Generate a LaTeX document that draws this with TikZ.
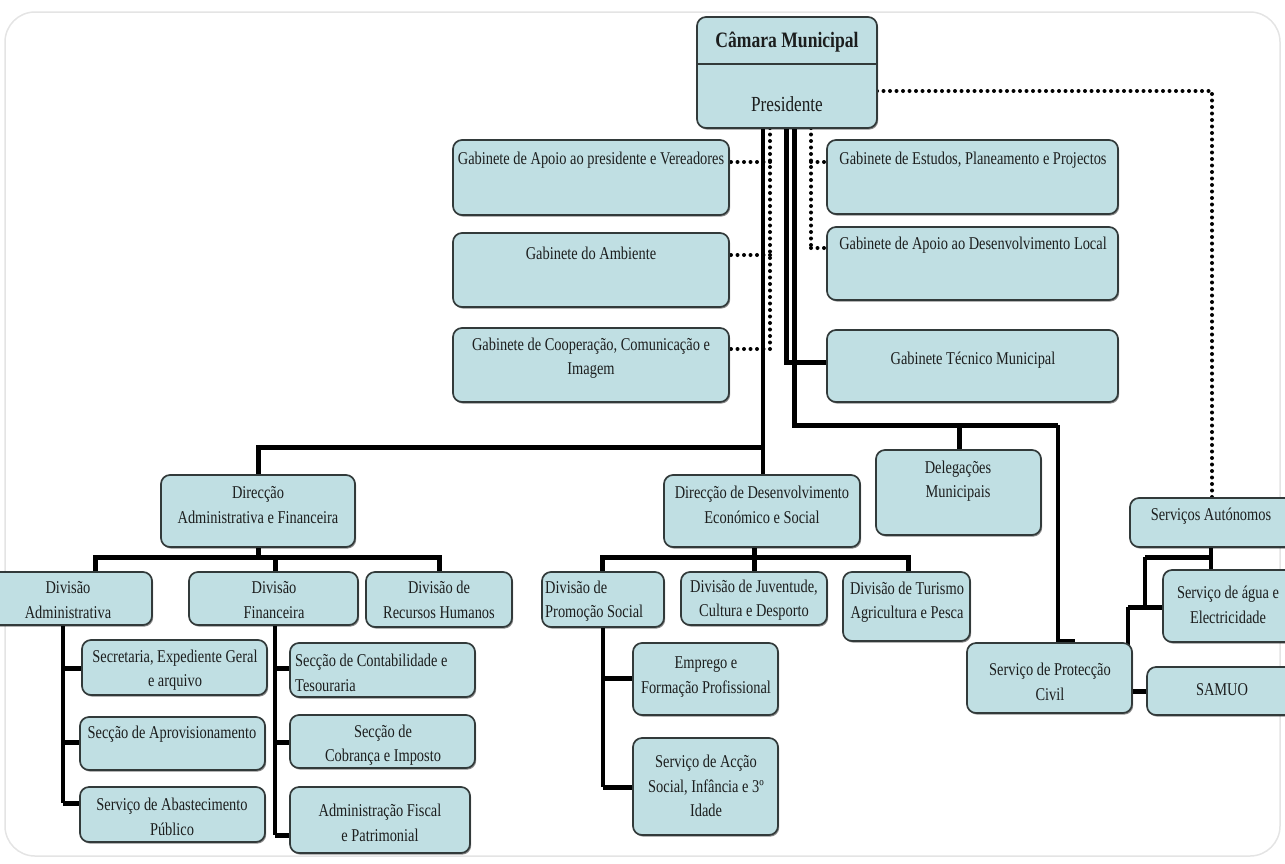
\documentclass[tikz,border=0pt]{standalone}
\usepackage{fontspec}
\setmainfont{Liberation Serif}[FakeStretch=0.80]
\usetikzlibrary{fit,backgrounds,shadows}
\definecolor{boxfill}{RGB}{192,223,227}
\definecolor{boxline}{RGB}{50,58,58}
\definecolor{txtcol}{RGB}{28,30,30}
\definecolor{framecol}{RGB}{228,228,228}
\newcommand\bx[5]{\node[box, fit={(#2,#3) (#4,#5)}] (#1) {};}
\begin{document}
\begin{tikzpicture}[x=1pt,y=-1pt,
  box/.style={draw=boxline, fill=boxfill, line width=1.7pt, rounded corners=9pt, inner sep=0pt, outer sep=0pt,
    drop shadow={shadow xshift=1.2pt, shadow yshift=-1.6pt, fill=black, opacity=0.45}},
  txt/.style={font=\fontsize{18}{24.5}\selectfont, text=txtcol, align=center, inner sep=0pt},
  thk/.style={line width=5pt},
  med/.style={line width=3.5pt},
  dots/.style={line width=4pt, dash pattern=on 0pt off 6.5pt, line cap=round}]
\useasboundingbox (0,0) rectangle (1285,863);
\clip (0,0) rectangle (1285,863);
\draw[framecol, line width=1.5pt, rounded corners=30pt] (5,12) rectangle (1280,856);

% ---------- boxes ----------
\bx{pres}{697}{17}{877}{128}
\coordinate (presdiv) at (0,64);
\draw[boxline, line width=1.6pt] (pres.west |- presdiv) -- (pres.east |- presdiv);
\node[txt, font=\fontsize{22}{24}\selectfont\bfseries] (prest1) at (787,42) {Câmara Municipal};
\node[txt, font=\fontsize{21.5}{24}\selectfont] (prest2) at (787,104) {Presidente};

\bx{gapv}{453}{140}{729}{215}
\node[txt] (gapvt) at (591,160) {Gabinete de Apoio ao presidente e Vereadores};
\bx{gamb}{453}{233}{729}{307}
\node[txt] (gambt) at (591,253) {Gabinete do Ambiente};
\bx{gcoop}{453}{328}{729}{402}
\node[txt] (gcoopt) at (591,358) {Gabinete de Cooperação, Comunicação e\\Imagem};

\bx{gest}{827}{140}{1118}{214}
\node[txt] (gestt) at (973,160) {Gabinete de Estudos, Planeamento e Projectos};
\bx{gadl}{827}{227}{1118}{300}
\node[txt] (gadlt) at (973,245) {Gabinete de Apoio ao Desenvolvimento Local};
\bx{gtec}{827}{330}{1118}{402}
\node[txt] (gtect) at (973,360) {Gabinete Técnico Municipal};

\bx{daf}{161}{475}{355}{547}
\node[txt] (daft) at (258,505) {Direcção\\Administrativa e Financeira};
\bx{ddes}{664}{475}{860}{547}
\node[txt] (ddest) at (762,505) {Direcção de Desenvolvimento\\Económico e Social};
\bx{deleg}{876}{450}{1041}{535}
\node[txt] (delegt) at (958,481) {Delegações\\Municipais};
\bx{sa}{1130}{498}{1298}{547}
\node[txt] (sat) at (1211,516) {Serviços Autónomos};

\bx{dadm}{-14}{572}{152}{625}
\node[txt] (dadmt) at (68,600) {Divisão\\Administrativa};
\bx{dfin}{189}{572}{358}{625}
\node[txt] (dfint) at (274,600) {Divisão\\Financeira};
\bx{drh}{366}{572}{512}{627}
\node[txt] (drht) at (439,600) {Divisão de\\Recursos Humanos};

\bx{sec}{82}{640}{267}{695}
\node[txt] (sect) at (175,670) {Secretaria, Expediente Geral\\e arquivo};
\bx{sapr}{80}{717}{265}{770}
\node[txt] (saprt) at (172,734) {Secção de Aprovisionamento};
\bx{sabp}{80}{787}{265}{842}
\node[txt] (sabpt) at (172,817) {Serviço de Abastecimento\\Público};

\bx{scont}{290}{643}{475}{697}
\node[txt, align=left, anchor=west] (scontt) at (295,673) {Secção de Contabilidade e\\Tesouraria};
\bx{scob}{290}{715}{475}{768}
\node[txt] (scobt) at (383,745) {Secção de\\Cobrança e Imposto};
\bx{afp}{290}{787}{470}{853}
\node[txt] (afpt) at (380,823) {Administração Fiscal\\e Patrimonial};

\bx{dprom}{542}{572}{664}{627}
\node[txt, align=left, anchor=west] (dpromt) at (545,601) {Divisão de\\Promoção Social};
\bx{djuv}{681}{572}{827}{625}
\node[txt] (djuvt) at (754,600) {Divisão de Juventude,\\Cultura e Desporto};
\bx{dtur}{843}{572}{970}{641}
\node[txt] (dturt) at (907,602) {Divisão de Turismo\\Agricultura e Pesca};

\bx{emp}{633}{643}{778}{715}
\node[txt] (empt) at (706,677) {Emprego e\\Formação Profissional};
\bx{acs}{633}{738}{778}{835}
\node[txt] (acst) at (706,786) {Serviço de Acção\\Social, Infância e 3º\\Idade};

\bx{pc}{967}{643}{1132}{713}
\node[txt] (pct) at (1050,682) {Serviço de Protecção\\Civil};
\bx{agua}{1163}{570}{1298}{642}
\node[txt] (aguat) at (1228,605) {Serviço de água e\\Electricidade};
\bx{samuo}{1147}{667}{1298}{715}
\node[txt] (samuot) at (1222,690) {SAMUO};

% ---------- connectors ----------
\begin{pgfonlayer}{background}
% trunk to the two directorates
\coordinate (tA) at (763,447);
\draw[med] (pres.south -| tA) -- (ddes.north -| tA);
\draw[thk] (tA) -| (daf.north);
% dotted, left cabinets
\coordinate (dA) at (770,162);
\coordinate (dB) at (770,255);
\coordinate (dC) at (770,349);
\draw[dots] (pres.south -| dA) -- (dC);
\draw[dots] (dA) -- (gapv.east |- dA);
\draw[dots] (dB) -- (gamb.east |- dB);
\draw[dots] (dC) -- (gcoop.east |- dC);
% Gabinete Tecnico
\coordinate (tB) at (786,362);
\draw[thk] (pres.south -| tB) |- (gtec.west |- tB);
% Delegacoes / Proteccao Civil
\coordinate (tC) at (794,425);
\coordinate (tD) at (1058,425);
\coordinate (tE) at (1075,641);
\coordinate (tF) at (959,425);
\draw[thk] (pres.south -| tC) |- (tD);
\draw[med] (tD) |- (tE);
\draw[thk] (tF) -- (deleg.north -| tF);
% dotted, right cabinets
\coordinate (dD) at (811,162);
\coordinate (dE) at (811,248);
\draw[dots] (pres.south -| dD) -- (dE);
\draw[dots] (dD) -- (gest.west |- dD);
\draw[dots] (dE) -- (gadl.west |- dE);
% dotted to Servicos Autonomos
\coordinate (dF) at (1212,91);
\draw[dots] (pres.east |- dF) -- (dF) -- (sa.north -| dF);
% DAF tree
\coordinate (b1) at (95,557);
\coordinate (b2) at (275,557);
\coordinate (b3) at (439,557);
\draw[thk] (daf.south) -- (daf.south |- b1);
\draw[thk] (dadm.north -| b1) -- (b1) -- (b3) -- (drh.north -| b3);
\draw[thk] (b2) -- (dfin.north -| b2);
% Divisao Administrativa children
\coordinate (c1) at (63,668);
\coordinate (c2) at (63,742);
\coordinate (c3) at (63,803);
\draw[med] (dadm.south -| c1) -- (c3);
\draw[thk] (c1) -- (sec.west |- c1);
\draw[thk] (c2) -- (sapr.west |- c2);
\draw[thk] (c3) -- (sabp.west |- c3);
% Divisao Financeira children
\coordinate (e1) at (275,668);
\coordinate (e2) at (275,742);
\coordinate (e3) at (275,835);
\draw[med] (dfin.south -| e1) -- (e3);
\draw[thk] (e1) -- (scont.west |- e1);
\draw[thk] (e2) -- (scob.west |- e2);
\draw[thk] (e3) -- (afp.west |- e3);
% DDES tree
\coordinate (f1) at (602,557);
\coordinate (f2) at (754,557);
\coordinate (f3) at (908,557);
\draw[thk] (ddes.south -| f2) -- (f2);
\draw[thk] (dprom.north -| f1) -- (f1) -- (f3) -- (dtur.north -| f3);
\draw[thk] (f2) -- (djuv.north -| f2);
% Divisao de Promocao Social children
\coordinate (g1) at (603,678);
\coordinate (g2) at (603,787);
\draw[med] (dprom.south -| g1) -- (g2);
\draw[thk] (g1) -- (emp.west |- g1);
\draw[thk] (g2) -- (acs.west |- g2);
% Servicos Autonomos tree
\coordinate (h1) at (1211,557);
\coordinate (h2) at (1145,557);
\coordinate (h3) at (1145,607);
\coordinate (h4) at (1128,607);
\coordinate (h5) at (1128,650);
\draw[med] (sa.south -| h1) -- (agua.north -| h1);
\draw[thk] (h1) -- (h2);
\draw[med] (h2) -- (h3);
\draw[thk] (h4) -- (agua.west |- h3);
\draw[med] (h4) -- (h5);
\draw[thk] (samuo.west -| pc.east) -- (samuo.west);
\end{pgfonlayer}
\end{tikzpicture}
\end{document}
